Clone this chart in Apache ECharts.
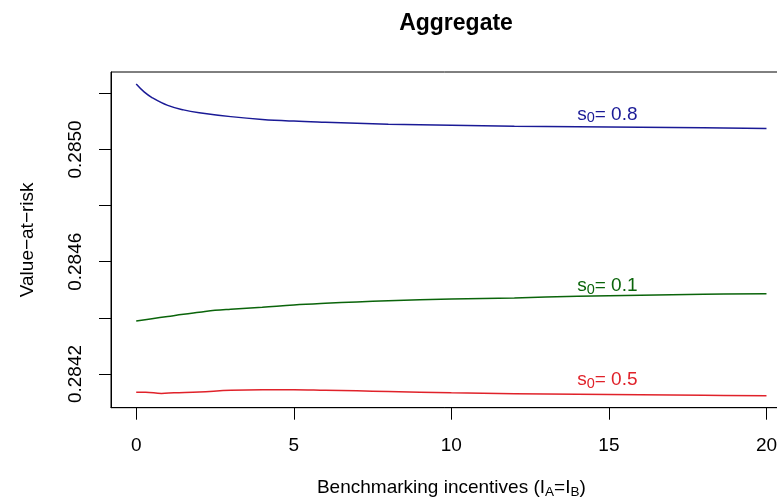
<!DOCTYPE html>
<html>
<head>
<meta charset="utf-8">
<script src="https://cdn.jsdelivr.net/npm/echarts@6/dist/echarts.min.js"></script>
<style>html,body{margin:0;padding:0;background:#fff}#c{width:777px;height:502px}</style>
</head>
<body>
<div id="c"></div>
<script>
// ---- data ----
var xBlue  = [0, 0.25, 0.5, 1, 1.5, 2, 3, 4, 5, 6, 8, 10, 12, 14, 16, 18, 20];
var yBlue  = [0.285233, 0.285205, 0.285185, 0.285157, 0.285141, 0.285131, 0.285117, 0.285107, 0.285101, 0.285097, 0.285090, 0.285086, 0.285083, 0.285081, 0.285079, 0.285077, 0.285075];
var xGreen = [0, 0.5, 1, 1.5, 2, 2.5, 3, 4, 5, 6, 7, 8, 10, 12, 14, 16, 18, 20];
var yGreen = [0.284389, 0.284397, 0.284405, 0.284413, 0.284420, 0.284427, 0.284431, 0.284438, 0.284446, 0.284452, 0.284457, 0.284461, 0.284467, 0.284471, 0.284477, 0.284481, 0.284484, 0.284486];
var xRed   = [0, 0.3, 0.8, 1.2, 2, 3, 4, 5, 6, 7, 8, 10, 12, 14, 16, 18, 20];
var yRed   = [0.284135, 0.284135, 0.284131, 0.284133, 0.284136, 0.284142, 0.284144, 0.284144, 0.284142, 0.284140, 0.284138, 0.284133, 0.284130, 0.284128, 0.284126, 0.284124, 0.284123];

var seriesNames = ['0.8', '0.1', '0.5'];
var labelX = [14.95, 14.95, 14.95];
var labelY = [0.285120, 0.284509, 0.284174];

var xTicks = [0, 5, 10, 15, 20];
var yTicks = [0.2842, 0.2844, 0.2846, 0.2848, 0.2850, 0.2852];
var yTickLabels = [0.2842, 0.2846, 0.2850];

var titleText = 'Aggregate';
var yTitle = 'Value\u2212at\u2212risk';

// ---- styles ----
var colors = ['#1a1a96', '#0a640a', '#e0222a'];
var FONT = 'Liberation Sans, Arial, Helvetica, sans-serif';

function zip(xs, ys) { return xs.map(function (x, i) { return [x, ys[i]]; }); }

var lineData = [zip(xBlue, yBlue), zip(xGreen, yGreen), zip(xRed, yRed)];

var series = [];
lineData.forEach(function (d, i) {
  series.push({
    type: 'line', data: d, showSymbol: false, smooth: 0.4,
    lineStyle: { color: colors[i], width: 1.5 }, silent: true, z: 3
  });
  series.push({
    type: 'scatter', data: [[labelX[i], labelY[i]]], symbolSize: 0, silent: true,
    itemStyle: { opacity: 1 },
    label: {
      show: true, position: 'inside', color: colors[i], opacity: 1,
      formatter: '{s|s}{sub|0}{s|= ' + seriesNames[i] + '}',
      rich: {
        s: { fontFamily: FONT, fontSize: 19, color: colors[i], lineHeight: 22, verticalAlign: 'top' },
        sub: { fontFamily: FONT, fontSize: 14.5, color: colors[i], lineHeight: 14, padding: [6, 0, 0, 0], verticalAlign: 'top' }
      }
    },
    z: 4
  });
});

var chart = echarts.init(document.getElementById('c'), null, { renderer: 'canvas' });
chart.setOption({
  animation: false,
  backgroundColor: '#ffffff',
  title: {
    text: titleText, left: 451, top: 7, textAlign: 'center',
    textStyle: { fontFamily: FONT, fontSize: 23, fontWeight: 'bold', color: '#000' }
  },
  grid: {
    left: 111, top: 72, width: 680.7, height: 335.7,
    show: true, borderColor: '#000', borderWidth: 1, containLabel: false, outerBoundsMode: 'none'
  },
  xAxis: {
    type: 'value', min: -0.8, max: 20.8,
    name: '{n|Benchmarking incentives (I}{sub|A}{n|=I}{sub|B}{n|)}',
    nameLocation: 'middle', nameGap: 71,
    nameTextStyle: {
      fontFamily: FONT, fontSize: 19, color: '#000',
      rich: {
        n: { fontFamily: FONT, fontSize: 19, color: '#000', lineHeight: 22, verticalAlign: 'top' },
        sub: { fontFamily: FONT, fontSize: 13.5, color: '#000', lineHeight: 13, padding: [7, 0, 0, 0], verticalAlign: 'top' }
      }
    },
    axisLine: { show: true, onZero: false, lineStyle: { color: '#000', width: 1 } },
    axisTick: { show: true, inside: false, length: 12, customValues: xTicks, lineStyle: { color: '#000', width: 1 } },
    axisLabel: { show: true, margin: 29, customValues: xTicks, fontFamily: FONT, fontSize: 19, color: '#000',
      formatter: function (v) { return String(v); } },
    splitLine: { show: false }
  },
  yAxis: {
    type: 'value', min: 0.284080, max: 0.285276,
    name: yTitle, nameLocation: 'middle', nameGap: 74, nameRotate: 90,
    nameTextStyle: { fontFamily: FONT, fontSize: 19, color: '#000' },
    axisLine: { show: true, onZero: false, lineStyle: { color: '#000', width: 1 } },
    axisTick: { show: true, inside: false, length: 12, customValues: yTicks, lineStyle: { color: '#000', width: 1 } },
    axisLabel: { show: true, rotate: 90, margin: 26, customValues: yTickLabels, fontFamily: FONT, fontSize: 19, color: '#000',
      formatter: function (v) { return v.toFixed(4); } },
    splitLine: { show: false }
  },
  series: series
});
</script>
</body>
</html>
